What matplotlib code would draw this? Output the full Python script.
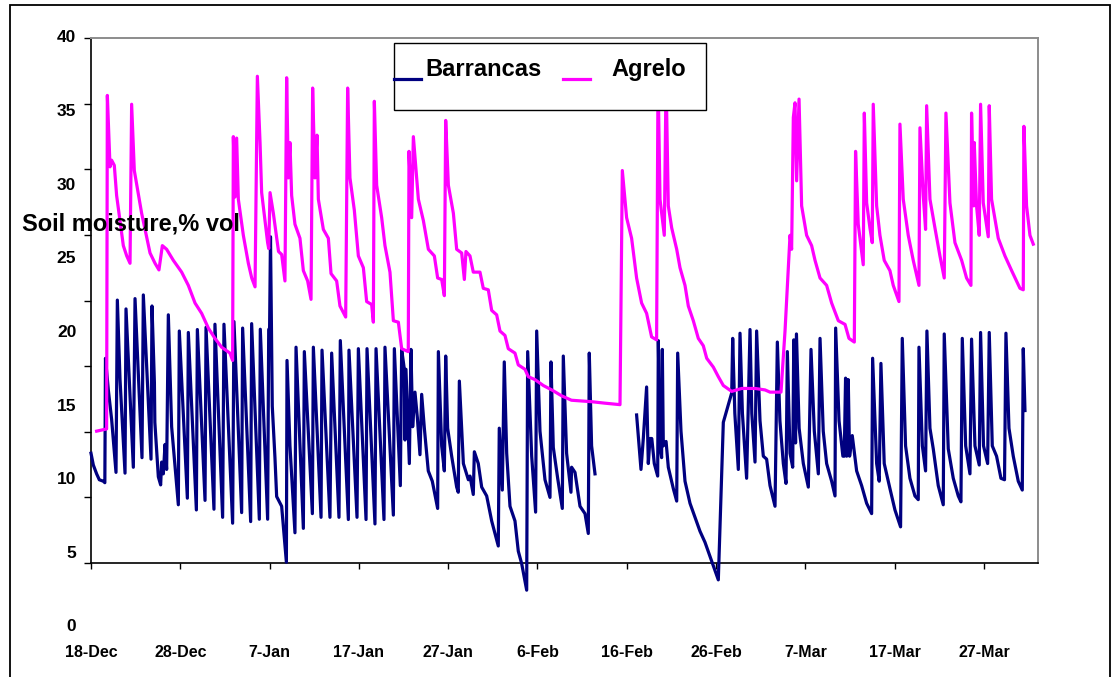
import matplotlib
matplotlib.use('Agg')
import matplotlib.pyplot as plt
import matplotlib.transforms as mtransforms
from matplotlib.patches import Rectangle
from matplotlib.lines import Line2D
import numpy as np

plt.rcParams['font.family'] = ['Liberation Sans', 'DejaVu Sans']
plt.rcParams['font.weight'] = 'bold'

# ---------------- data (days after 18-Dec, soil moisture % vol) ----------------
barrancas_days = [
    0.0, 0.26, 0.63, 0.93, 1.38, 1.55, 1.62, 1.94, 2.31, 2.8, 2.95, 3.25, 3.81, 3.92, 4.74, 4.93,
    5.71, 5.86, 6.72, 6.83, 7.1, 7.15, 7.54, 7.8, 7.91, 8.1, 8.29, 8.47, 8.66, 9.03, 9.41, 9.78,
    9.89, 10.79, 10.9, 11.8, 11.91, 12.77, 12.88, 13.77, 13.88, 14.74, 14.89, 15.86, 16.01, 16.87,
    16.98, 17.88, 17.99, 18.85, 18.96, 19.78, 19.9, 20.0, 20.1, 20.3, 20.6, 20.79, 21.35, 21.72,
    21.88, 21.95, 22.28, 22.84, 22.96, 23.78, 23.89, 24.79, 24.9, 25.76, 25.87, 26.76, 26.95, 27.77,
    27.92, 28.82, 28.89, 29.79, 29.94, 30.8, 30.91, 31.8, 31.92, 32.81, 32.92, 33.86, 33.97, 34.64,
    34.79, 35.09, 35.16, 35.27, 35.65, 35.83, 36.02, 36.28, 36.55, 36.84, 37.03, 37.33, 37.77, 38.22,
    38.82, 38.9, 39.27, 39.57, 39.72, 39.94, 40.39, 40.95, 41.13, 41.25, 41.7, 42.26, 42.44, 42.81,
    42.93, 43.37, 43.75, 44.31, 44.87, 45.61, 45.72, 46.06, 46.28, 46.55, 46.92, 47.48, 47.85, 48.23,
    48.79, 48.9, 49.35, 49.79, 49.91, 50.28, 50.84, 51.4, 51.51, 51.77, 52.26, 52.78, 52.89, 53.26,
    53.75, 53.82, 54.2, 54.76, 55.32, 55.69, 55.8, 56.06, 56.44, 58.5,
    61.1, 61.59, 61.85, 62.22, 62.41, 62.6, 62.8, 63.08, 63.46, 63.53, 63.72, 63.9, 63.98, 64.09,
    64.4, 64.65, 65.21, 65.59, 65.7, 66.07, 66.52, 67.08, 67.64, 68.2, 68.76, 69.32, 70.25, 70.81,
    71.19, 71.75, 71.86, 72.1, 72.49, 72.68, 72.95, 73.42, 73.8, 74.0, 74.36, 74.54, 74.92, 75.29,
    75.66, 76.04, 76.6, 76.86, 77.15, 77.53, 77.83, 77.98, 78.28, 78.58, 78.7, 78.9, 79.0, 79.3,
    79.77, 80.33, 80.63, 81.0, 81.45, 81.64, 82.0, 82.38, 82.94, 83.32, 83.39, 83.77, 84.2, 84.35,
    84.5, 84.62, 84.8, 84.95, 85.25, 85.74, 86.3, 86.86, 87.42, 87.53, 87.98, 88.27, 88.46, 88.83,
    89.47, 90.03, 90.66, 90.85, 91.22, 91.71, 92.27, 92.64, 92.72, 93.1, 93.46, 93.61, 93.95, 94.32,
    94.88, 95.44, 95.55, 96.0, 96.56, 97.12, 97.42, 97.57, 97.95, 98.43, 98.61, 98.99, 99.47, 99.62,
    99.95, 100.41, 100.59, 100.93, 101.41, 101.9, 102.3, 102.46, 102.8, 103.28, 103.84, 104.29,
    104.4, 104.59,
]
barrancas_vals = [
    11.8, 11.0, 10.4, 10.0, 9.9, 9.8, 18.25, 16.1, 14.1, 10.5, 22.2, 16.8, 10.45, 21.6, 10.85, 22.3,
    11.5, 22.55, 11.4, 21.8, 16.6, 13.9, 10.2, 9.65, 11.2, 10.4, 12.4, 10.7, 21.2, 13.6, 10.9, 8.3,
    20.1, 8.75, 20.0, 7.95, 20.2, 8.6, 20.35, 8.0, 20.56, 7.45, 20.56, 7.05, 20.74, 7.77,
    20.3, 7.16, 20.6, 7.32, 20.22, 7.32, 20.2, 20.3, 26.5, 15.0, 11.5, 8.86, 8.2, 5.5,
    4.4, 18.1, 12.3, 6.4, 19.0, 6.7, 18.7, 7.7, 19.0, 7.45, 18.8, 7.45, 18.6, 7.45,
    19.45, 7.3, 18.8, 7.45, 18.9, 7.3, 18.9, 7.0, 18.9, 7.3, 19.0, 7.6, 18.9, 9.6,
    18.85, 17.5, 12.7, 17.5, 11.1, 18.85, 13.6, 15.95, 14.2, 11.7, 15.8, 13.5, 10.6, 9.9,
    8.05, 18.7, 12.3, 10.6, 18.4, 13.5, 11.6, 9.5, 9.15, 16.7, 11.1, 10.0, 10.25, 9.0,
    11.9, 11.1, 9.5, 8.9, 7.2, 5.5, 13.5, 9.3, 18.0, 11.8, 8.2, 7.2, 5.15, 4.3,
    2.5, 18.7, 11.6, 7.8, 20.1, 13.3, 10.0, 8.8, 18.0, 12.2, 10.1, 8.05, 18.4, 11.8,
    9.15, 10.85, 10.5, 8.2, 7.7, 6.35, 18.6, 12.3, 10.4, np.nan,
    14.4, 10.7, 12.8, 16.3, 11.1, 12.8, 12.8, 11.1, 10.25, 19.45, 12.3, 11.5, 18.85, 12.3,
    12.6, 10.85, 9.4, 8.55, 18.6, 13.3, 9.9, 8.4, 7.45, 6.5, 5.75, 4.8, 3.2, 13.9,
    14.7, 15.9, 19.6, 14.5, 10.7, 19.95, 14.5, 10.1, 20.2, 14.5, 11.2, 20.1, 14.0, 11.6,
    11.4, 9.6, 8.2, 19.35, 14.0, 11.1, 9.75, 18.7, 11.8, 10.85, 19.5, 12.5, 19.9, 13.5,
    11.1, 9.5, 18.85, 13.3, 10.4, 19.6, 13.3, 11.1, 9.9, 8.9, 20.3, 14.0, 11.6, 11.6,
    16.9, 11.6, 16.8, 11.6, 13.0, 10.6, 9.6, 8.4, 7.7, 18.25, 11.1, 9.9, 17.9, 11.1,
    9.4, 7.95, 6.8, 19.6, 12.3, 10.1, 8.9, 8.65, 19.0, 12.3, 10.6, 20.1, 13.5, 12.1,
    9.6, 8.3, 19.9, 12.1, 10.1, 8.9, 8.5, 19.6, 12.3, 10.4, 19.55, 12.3, 11.0, 20.0,
    12.3, 11.1, 20.0, 12.3, 11.6, 10.1, 10.0, 19.95, 13.5, 11.6, 9.9, 9.3,
    18.9, 14.7,
]

agrelo_days = [
    0.63, 1.75, 1.83, 2.13, 2.31, 2.61, 2.87, 3.62, 4.0, 4.37, 4.55, 4.85, 5.67, 6.61, 7.17, 7.61,
    7.99, 8.47, 9.22, 10.15, 10.9, 11.65, 12.39, 13.14, 13.88, 14.63, 15.56, 15.86, 15.94, 16.13,
    16.31, 16.5, 17.06, 17.62, 18.0, 18.37, 18.63, 18.93, 19.11, 19.78, 19.9, 20.05, 20.42, 21.0,
    21.35, 21.72, 21.91, 22.1, 22.28, 22.47, 22.84, 23.4, 23.78, 24.26, 24.64, 24.82, 25.08, 25.31,
    25.46, 26.02, 26.58, 26.88, 27.51, 27.88, 28.52, 28.74, 29.0, 29.49, 29.94, 30.5, 30.87, 31.43,
    31.62, 31.73, 31.99, 32.55, 32.92, 33.48, 33.86, 34.42, 34.79, 35.53, 35.61, 35.91, 36.1, 36.66,
    37.22, 37.78, 38.45, 38.82, 39.27, 39.57, 39.72, 40.02, 40.58, 40.95, 41.51, 41.81, 41.99, 42.44,
    42.81, 43.56, 43.93, 44.49, 44.87, 45.43, 45.8, 46.36, 46.73, 47.48, 47.85, 48.6, 48.97, 49.72,
    50.65, 51.6, 52.7, 53.8, 56.06, 57.56, 59.24, 59.5, 59.98, 60.54, 61.1, 61.66, 62.22, 62.78,
    63.34, 63.5, 63.72, 64.2, 64.4, 64.65, 65.03, 65.59, 65.96, 66.52, 66.89, 67.45, 68.01, 68.57,
    68.95, 69.69, 70.25, 70.81, 71.75, 72.87, 74.36, 75.48, 76.04, 77.27, 77.72, 78.28, 78.46, 78.65,
    78.84, 79.02, 79.29, 79.58, 80.14, 80.7, 81.08, 81.64, 82.38, 82.94, 83.69, 84.44, 84.88, 85.48,
    85.62, 85.92, 86.22, 86.48, 86.6, 86.86, 87.23, 87.49, 87.6, 87.98, 88.35, 88.83, 89.47, 89.84,
    90.48, 90.59, 90.96, 91.52, 92.08, 92.72, 92.83, 93.2, 93.46, 93.58, 93.95, 94.51, 95.07, 95.55,
    95.74, 96.19, 96.75, 97.5, 98.05, 98.54, 98.61, 98.85, 98.91, 99.17, 99.47, 99.62, 99.92, 100.48,
    100.59, 100.85, 101.6, 102.35, 103.1, 103.65, 104.03, 104.4, 104.47, 104.77, 105.15, 105.52,
]
agrelo_vals = [
    13.3, 13.45, 36.1, 31.25, 31.7, 31.35, 29.3, 25.9, 25.2, 24.7, 35.5, 31.0, 28.1, 25.4, 24.7, 24.25,
    25.9, 25.65, 24.9, 24.1, 23.2, 22.0, 21.3, 20.3, 19.6, 19.0, 18.6, 18.1, 33.3, 29.2,
    33.2, 29.05, 26.6, 24.7, 23.7, 23.1, 37.4, 32.9, 29.5, 26.1, 25.7, 29.5, 28.1, 25.5,
    25.3, 23.5, 37.3, 30.5, 32.9, 29.3, 27.35, 26.4, 24.2, 23.5, 22.25, 36.6, 30.5, 33.4,
    29.05, 27.0, 26.4, 24.0, 23.5, 21.8, 21.05, 36.6, 30.5, 28.3, 25.2, 24.4, 22.1, 21.9,
    20.7, 35.7, 30.0, 27.8, 25.9, 24.1, 20.8, 20.7, 18.9, 18.7, 32.3, 27.8, 33.3, 29.05,
    27.6, 25.65, 25.2, 23.7, 23.6, 22.5, 34.4, 30.0, 28.1, 25.65, 25.4, 23.6, 25.5, 25.2,
    24.1, 24.1, 23.0, 22.9, 21.5, 21.2, 20.1, 19.8, 18.9, 18.6, 17.8, 17.5, 17.0, 16.8,
    16.4, 16.1, 15.7, 15.4, 15.3, 15.2, 15.1, 31.0, 27.8, 26.4, 23.7, 22.0, 21.3, 19.7,
    19.5, 37.5, 29.05, 26.6, 37.3, 28.6, 27.1, 25.65, 24.4, 23.2, 21.8, 20.8, 19.6, 19.1,
    18.25, 17.65, 17.0, 16.4, 16.0, 16.2, 16.2, 16.1, 15.95, 15.95, 20.1, 26.6, 25.65, 34.6,
    35.6, 30.3, 35.85, 28.6, 26.6, 25.9, 24.9, 23.7, 23.2, 22.0, 20.8, 20.55, 19.6, 19.35,
    32.3, 27.35, 25.9, 24.6, 34.9, 28.8, 27.1, 26.1, 35.5, 28.6, 26.6, 24.9, 24.2, 23.2,
    22.1, 34.15, 29.05, 26.6, 24.9, 23.2, 33.9, 29.3, 27.0, 35.4, 29.05, 27.1, 25.2, 23.7,
    34.9, 28.8, 26.1, 24.9, 23.7, 23.2, 34.9, 28.6, 32.9, 28.6, 26.6, 35.5, 28.8, 26.5,
    35.4, 29.05, 26.4, 25.2, 24.2, 23.5, 23.0, 22.9, 34.0, 28.6, 26.6, 26.0,
]

x_tick_days = [0, 10, 20, 30, 40, 50, 60, 70, 80, 90, 100]
x_tick_labels = ['18-Dec', '28-Dec', '7-Jan', '17-Jan', '27-Jan', '6-Feb',
                 '16-Feb', '26-Feb', '7-Mar', '17-Mar', '27-Mar']
y_tick_labels = [40, 35, 30, 25, 20, 15, 10, 5, 0]
series_names = ['Barrancas', 'Agrelo']
series_colors = ['#000080', '#FF00FF']

# ---------------- figure ----------------
W, H = 1113, 677
fig = plt.figure(figsize=(W / 100, H / 100), dpi=100)
fig.patch.set_facecolor('white')

def fx(px):
    return px / W

def fy(py):
    return 1 - py / H

ax = fig.add_axes([fx(91), fy(563), fx(1038) - fx(91), fy(38) - fy(563)])
ymin = 4.346
ax.set_xlim(0, 106.05)
ax.set_ylim(ymin, 40)

ax.plot(barrancas_days, barrancas_vals, color=series_colors[0], lw=2.3,
        clip_on=False, zorder=3, solid_joinstyle='round')
ax.plot(agrelo_days, agrelo_vals, color=series_colors[1], lw=2.3,
        clip_on=False, zorder=4, solid_joinstyle='round')

for s in ['left', 'bottom']:
    ax.spines[s].set_color('black')
    ax.spines[s].set_linewidth(1.2)
for s in ['top', 'right']:
    ax.spines[s].set_color('#8c8c8c')
    ax.spines[s].set_linewidth(1.4)

ax.set_xticks(x_tick_days)
ax.set_xticklabels(x_tick_labels)
ax.tick_params(axis='x', direction='out', length=4, width=1, pad=55,
               labelsize=11.5, colors='black')
ax.set_yticks(np.linspace(ymin, 40, 9))
ax.set_yticklabels([])
ax.tick_params(axis='y', direction='out', length=5, width=1)

trans = mtransforms.blended_transform_factory(ax.transAxes, ax.transData)
for v in y_tick_labels:
    ax.text(-0.0155, v, str(v), transform=trans, ha='right', va='center',
            fontsize=12.5, fontweight='bold', clip_on=False)

fig.text(fx(22), fy(224), 'Soil moisture,% vol', fontsize=17, fontweight='bold',
         ha='left', va='center', zorder=10)

# legend box (drawn like the original)
fig.add_artist(Rectangle((fx(394), fy(110)), fx(706) - fx(394), fy(43) - fy(110),
                         transform=fig.transFigure, facecolor='white',
                         edgecolor='black', lw=1.0, zorder=5))
fig.add_artist(Line2D([fx(394), fx(421)], [fy(78.5), fy(78.5)], transform=fig.transFigure,
                      color=series_colors[0], lw=2.3, zorder=6))
fig.text(fx(425), fy(76), series_names[0], fontsize=17, fontweight='bold',
         ha='left', va='baseline', zorder=6)
fig.add_artist(Line2D([fx(563), fx(590)], [fy(78.5), fy(78.5)], transform=fig.transFigure,
                      color=series_colors[1], lw=2.3, zorder=6))
fig.text(fx(611), fy(76), series_names[1], fontsize=17, fontweight='bold',
         ha='left', va='baseline', zorder=6)

# outer frame
fig.add_artist(Rectangle((fx(9.5), -0.05), fx(1109.5) - fx(9.5), fy(5) + 0.05,
                         transform=fig.transFigure, fill=False,
                         edgecolor='black', lw=1.3, zorder=7))

fig.savefig('out.png', dpi=100, facecolor='white')
